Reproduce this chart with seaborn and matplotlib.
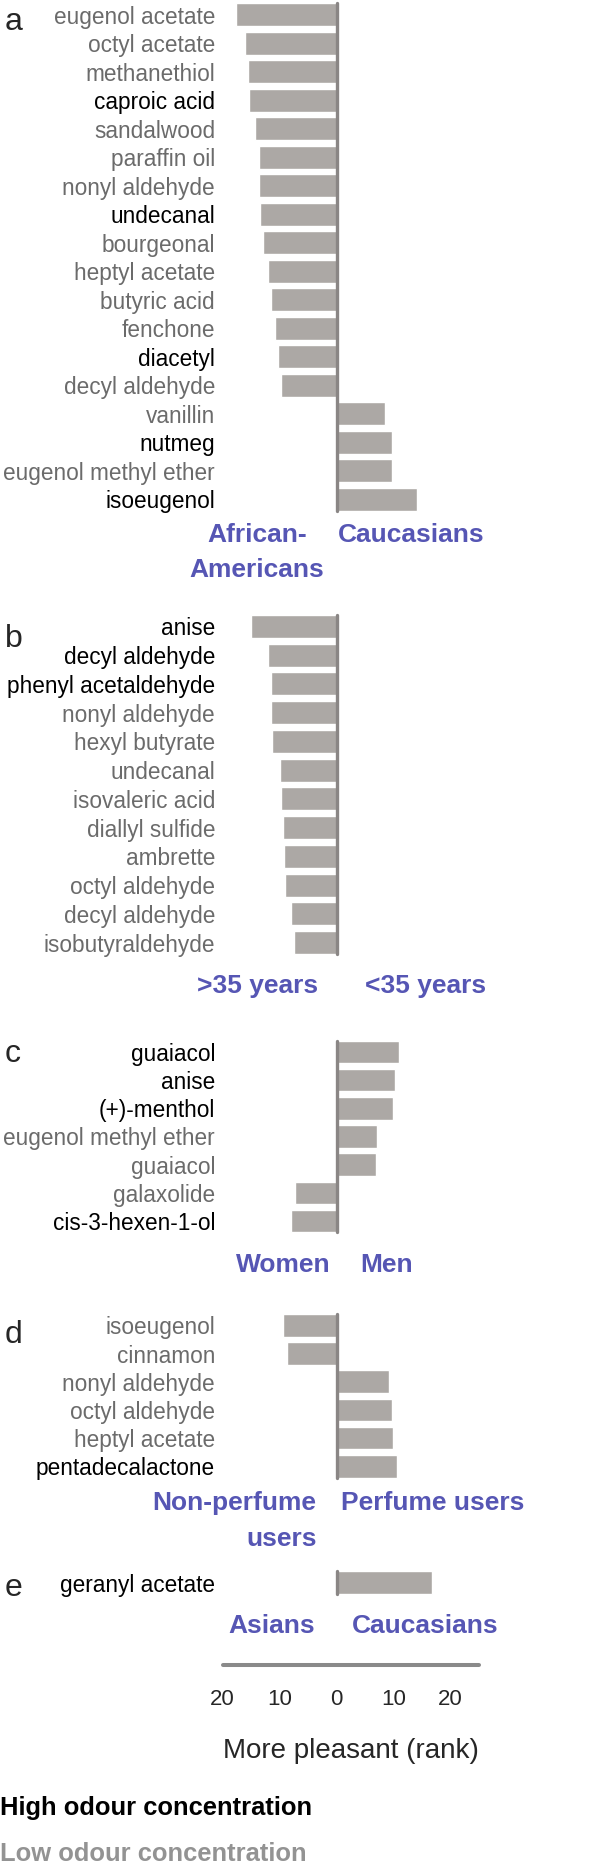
import pandas as pd
import seaborn as sns
import matplotlib
matplotlib.use('Agg')
import matplotlib.pyplot as plt

# ---- data (rank differences, negative = left group) ----
a_names = ['eugenol acetate', 'octyl acetate', 'methanethiol', 'caproic acid', 'sandalwood',
           'paraffin oil', 'nonyl aldehyde', 'undecanal', 'bourgeonal', 'heptyl acetate',
           'butyric acid', 'fenchone', 'diacetyl', 'decyl aldehyde', 'vanillin', 'nutmeg',
           'eugenol methyl ether', 'isoeugenol']
a_vals = [-17.7, -16.1, -15.6, -15.4, -14.3, -13.6, -13.6, -13.4, -12.9, -12.1,
          -11.6, -10.8, -10.3, -9.8, 8.4, 9.7, 9.7, 14.0]
a_high = [0, 0, 0, 1, 0, 0, 0, 1, 0, 0, 0, 0, 1, 0, 0, 1, 0, 1]

b_names = ['anise', 'decyl aldehyde', 'phenyl acetaldehyde', 'nonyl aldehyde', 'hexyl butyrate',
           'undecanal', 'isovaleric acid', 'diallyl sulfide', 'ambrette', 'octyl aldehyde',
           'decyl aldehyde', 'isobutyraldehyde']
b_vals = [-15.0, -12.1, -11.5, -11.5, -11.3, -10.0, -9.8, -9.5, -9.3, -9.0, -8.0, -7.5]
b_high = [1, 1, 1, 0, 0, 0, 0, 0, 0, 0, 0, 0]

c_names = ['guaiacol', 'anise', '(+)-menthol', 'eugenol methyl ether', 'guaiacol',
           'galaxolide', 'cis-3-hexen-1-ol']
c_vals = [10.9, 10.2, 9.9, 7.1, 6.9, -7.3, -8.0]
c_high = [1, 1, 1, 0, 0, 0, 1]

d_names = ['isoeugenol', 'cinnamon', 'nonyl aldehyde', 'octyl aldehyde', 'heptyl acetate',
           'pentadecalactone']
d_vals = [-9.5, -8.8, 9.2, 9.7, 9.9, 10.5]
d_high = [0, 0, 0, 0, 0, 1]

e_names = ['geranyl acetate']
e_vals = [16.7]
e_high = [1]

tick_vals = [-20, -10, 0, 10, 20]
tick_labels = ['20', '10', '0', '10', '20']

BAR = '#aca8a5'
ZERO = '#8a8685'
GREY_TXT = '#6b6b6b'
BLUE = '#5656b4'

sns.set_style('white')
plt.rcParams['font.family'] = ['Liberation Sans', 'DejaVu Sans']

W, H = 600, 1872
fig = plt.figure(figsize=(W / 100, H / 100), dpi=100)

X0, X1 = 222.7, 479.2   # pixel span of -20 .. 25


def ftext(x, y, s, **kw):
    fig.text(x / W, 1 - y / H, s, **kw)


def panel(names, vals, high, top, bottom, letter, letter_base):
    ax = fig.add_axes([X0 / W, 1 - bottom / H, (X1 - X0) / W, (bottom - top) / H])
    df = pd.DataFrame({'row': range(len(names)), 'rank': vals})
    sns.barplot(data=df, x='rank', y='row', orient='h', color=BAR, saturation=1,
                width=0.8, ax=ax, zorder=2)
    n = len(names)
    ax.set_xlim(-20, 25)
    ax.set_ylim(n - 0.5, -0.5)
    ax.axvline(0, ymin=0.1 / n, ymax=1 - 0.1 / n, color=ZERO, lw=2.4, zorder=3)
    ax.set_yticks(range(n))
    ax.set_yticklabels(names, fontsize=16.3)
    for lab, h in zip(ax.get_yticklabels(), high):
        lab.set_color('black' if h else GREY_TXT)
    ax.tick_params(axis='y', length=0, pad=5.5)
    ax.set_xticks([])
    ax.set_xlabel('')
    ax.set_ylabel('')
    sns.despine(ax=ax, left=True, bottom=True)
    ftext(5, letter_base, letter, fontsize=23, va='baseline')
    return ax


panel(a_names, a_vals, a_high, 0.5, 513.5, 'a', 30)
panel(b_names, b_vals, b_high, 612.1, 956.9, 'b', 646.7)
panel(c_names, c_vals, c_high, 1037.9, 1235.1, 'c', 1062.3)
panel(d_names, d_vals, d_high, 1311.2, 1480.5, 'd', 1342.7)
panel(e_names, e_vals, e_high, 1568.1, 1597.2, 'e', 1596)

# group labels
grp = dict(color=BLUE, fontsize=19, fontweight='bold', va='baseline')
ftext(257, 541.7, 'African-', ha='center', **grp)
ftext(257, 576.7, 'Americans', ha='center', **grp)
ftext(410.8, 541.7, 'Caucasians', ha='center', **grp)
ftext(257.8, 993, '>35 years', ha='center', **grp)
ftext(425.3, 993, '<35 years', ha='center', **grp)
ftext(283.3, 1271.7, 'Women', ha='center', **grp)
ftext(387, 1271.7, 'Men', ha='center', **grp)
ftext(316.7, 1510, 'Non-perfume', ha='right', **grp)
ftext(316.7, 1546, 'users', ha='right', **grp)
ftext(432.5, 1510, 'Perfume users', ha='center', **grp)
ftext(271.7, 1632.7, 'Asians', ha='center', **grp)
ftext(425.5, 1632.7, 'Caucasians', ha='center', **grp)

# shared rank scale
sx = fig.add_axes([X0 / W, 1 - 1665 / H, (X1 - X0) / W, 10 / H])
sx.set_xlim(-20, 25)
sx.set_yticks([])
sx.set_xticks(tick_vals)
sx.set_xticklabels(tick_labels, fontsize=16)
sns.despine(ax=sx, left=True)
sx.spines['bottom'].set_linewidth(2.9)
sx.spines['bottom'].set_color('#8a8a8a')
sx.spines['bottom'].set_capstyle('round')
sx.tick_params(axis='x', direction='out', length=4, width=2.2, color='#8a8a8a', pad=13.5)
sx.patch.set_alpha(0)
ftext(350.8, 1758.3, 'More pleasant (rank)', ha='center', va='baseline', fontsize=20)

# legend text
ftext(0, 1815, 'High odour concentration', ha='left', va='baseline', fontsize=18.4,
      fontweight='bold', color='black')
ftext(0, 1860.7, 'Low odour concentration', ha='left', va='baseline', fontsize=18.4,
      fontweight='bold', color='#939393')

fig.savefig('out.png', dpi=100)
